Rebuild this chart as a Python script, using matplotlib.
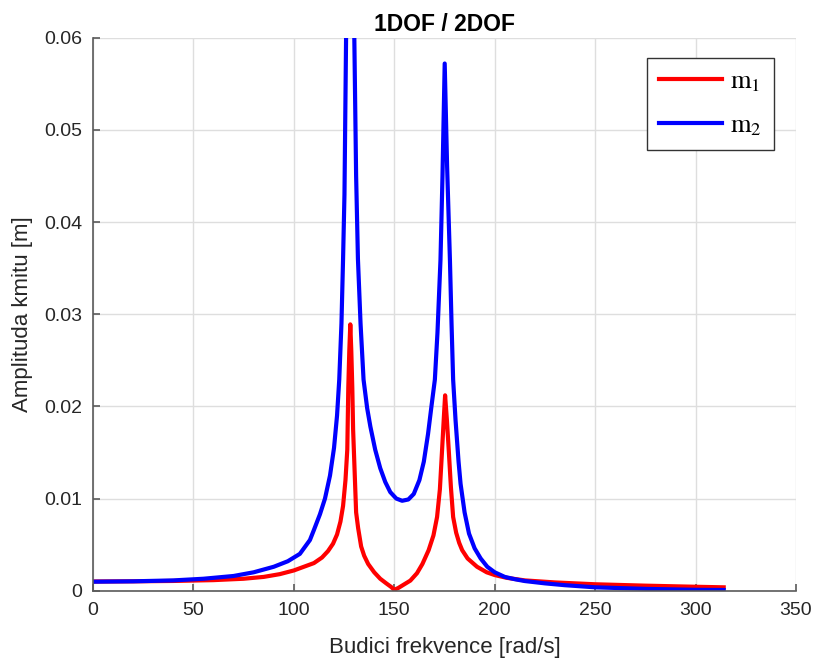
import matplotlib
matplotlib.use('Agg')
import matplotlib.pyplot as plt

# budici frekvence [rad/s] a amplitudy [m]
w_m1 = [0, 20, 40, 60, 75, 85, 93, 100, 105, 110, 114, 117, 119.5, 121.5,
        123.2, 124.5, 125.7, 126.6, 127.1, 127.6, 128.1, 128.6, 129.1, 129.5,
        130, 131, 132, 133.5, 135, 137, 140, 143, 146, 148.5, 150, 152, 155,
        158, 161.3, 164, 167.1, 169.5, 171.3, 172.7, 173.8, 174.6, 175.3,
        176.2, 177.1, 178.2, 179.3, 180.8, 182.3, 183.8, 186.5, 191.2, 196,
        200, 206, 215, 230, 250, 275, 300, 314]
a_m1 = [0.00100, 0.00102, 0.00106, 0.00115, 0.00130, 0.00150, 0.0018, 0.0022,
        0.0026, 0.0030, 0.0036, 0.0043, 0.0051, 0.0061, 0.0075, 0.0092,
        0.0120, 0.0153, 0.0220, 0.0260, 0.0289, 0.0260, 0.0220, 0.0175,
        0.0145, 0.0085, 0.0068, 0.0048, 0.0038, 0.0029, 0.0020, 0.0013,
        0.0008, 0.0004, 0.0001, 0.0003, 0.0007, 0.0011, 0.0019, 0.0029,
        0.0044, 0.0060, 0.0080, 0.0110, 0.0153, 0.0185, 0.0212, 0.0185,
        0.0153, 0.0112, 0.0080, 0.0063, 0.0052, 0.0044, 0.0035, 0.0026,
        0.0020, 0.0017, 0.0014, 0.00112, 0.0009, 0.0007, 0.00055, 0.00043,
        0.00037]

w_m2 = [0, 20, 40, 55, 70, 80, 90, 97, 103, 108, 110, 113, 115.5, 118, 120,
        121.5, 122.6, 123.7, 124.5, 125.2, 126, 127, 128, 129, 130.1, 131,
        131.9, 133.2, 134.7, 136.5, 138.1, 140.5, 143, 145.5, 148, 151, 153.9,
        157, 159.7, 162.5, 164.7, 166.8, 168.5, 170.2, 171.5, 173, 174, 175.1,
        176.3, 177.7, 178.5, 179.3, 180.5, 182, 183, 185, 187.2, 190, 193,
        196.3, 200, 205, 210, 215, 225, 235, 250, 275, 300, 314]
a_m2 = [0.00098, 0.00102, 0.00112, 0.00130, 0.0016, 0.0020, 0.0026, 0.0032,
        0.0040, 0.0055, 0.0066, 0.0083, 0.0100, 0.0125, 0.0155, 0.0190,
        0.0229, 0.029, 0.036, 0.043, 0.060, 0.085, 0.100, 0.085, 0.060,
        0.045, 0.036, 0.029, 0.0229, 0.0198, 0.0178, 0.0153, 0.0133, 0.0118,
        0.0107, 0.0100, 0.00976, 0.0099, 0.0105, 0.0120, 0.0140, 0.0170,
        0.0200, 0.0229, 0.028, 0.0359, 0.045, 0.0572, 0.046, 0.0359, 0.029,
        0.0229, 0.0185, 0.0140, 0.0116, 0.0085, 0.0062, 0.0046, 0.0035,
        0.0026, 0.0020, 0.0015, 0.00125, 0.00105, 0.0008, 0.0006, 0.00037,
        0.0002, 0.0001, 0.00008]

labels = [r'$\mathrm{m}_1$', r'$\mathrm{m}_2$']

plt.rcParams['font.family'] = ['Liberation Sans', 'DejaVu Sans']
plt.rcParams['mathtext.fontset'] = 'stix'

fig = plt.figure(figsize=(8.15, 6.59), dpi=100)
ax = fig.add_axes([0.1141, 0.1036, 0.8626, 0.8392])

ax.plot(w_m1, a_m1, color='#ff0000', linewidth=3, label=labels[0])
ax.plot(w_m2, a_m2, color='#0000ff', linewidth=3, label=labels[1])

ax.set_xlim(0, 350)
ax.set_ylim(0, 0.06)
ax.set_xticks(range(0, 351, 50))
ax.set_yticks([0, 0.01, 0.02, 0.03, 0.04, 0.05, 0.06])
ax.set_yticklabels(['0', '0.01', '0.02', '0.03', '0.04', '0.05', '0.06'])
ax.grid(True, color='#dedede', linewidth=1)
ax.set_axisbelow(True)

for s in ['top', 'right']:
    ax.spines[s].set_visible(False)
for s in ['left', 'bottom']:
    ax.spines[s].set_color('#5a5a5a')
    ax.spines[s].set_linewidth(1.2)
ax.tick_params(direction='in', length=5, width=1.2, color='#5a5a5a',
               labelsize=14, labelcolor='#262626', pad=8)

ax.set_xlabel('Budici frekvence [rad/s]', fontsize=16, color='#262626', labelpad=13)
ax.set_ylabel('Amplituda kmitu [m]', fontsize=16, color='#262626', labelpad=8)
ax.set_title('1DOF / 2DOF', fontsize=16.5, fontweight='bold', pad=5)

leg = ax.legend(loc='upper right', bbox_to_anchor=(0.9687, 0.963),
                borderaxespad=0,
                prop={'family': 'Liberation Serif', 'size': 19},
                fancybox=False, edgecolor='#333333', framealpha=1,
                handlelength=2.4, borderpad=0.45, labelspacing=0.75,
                handletextpad=0.3)
leg.get_frame().set_linewidth(1.0)

fig.savefig('out.png', dpi=100)
